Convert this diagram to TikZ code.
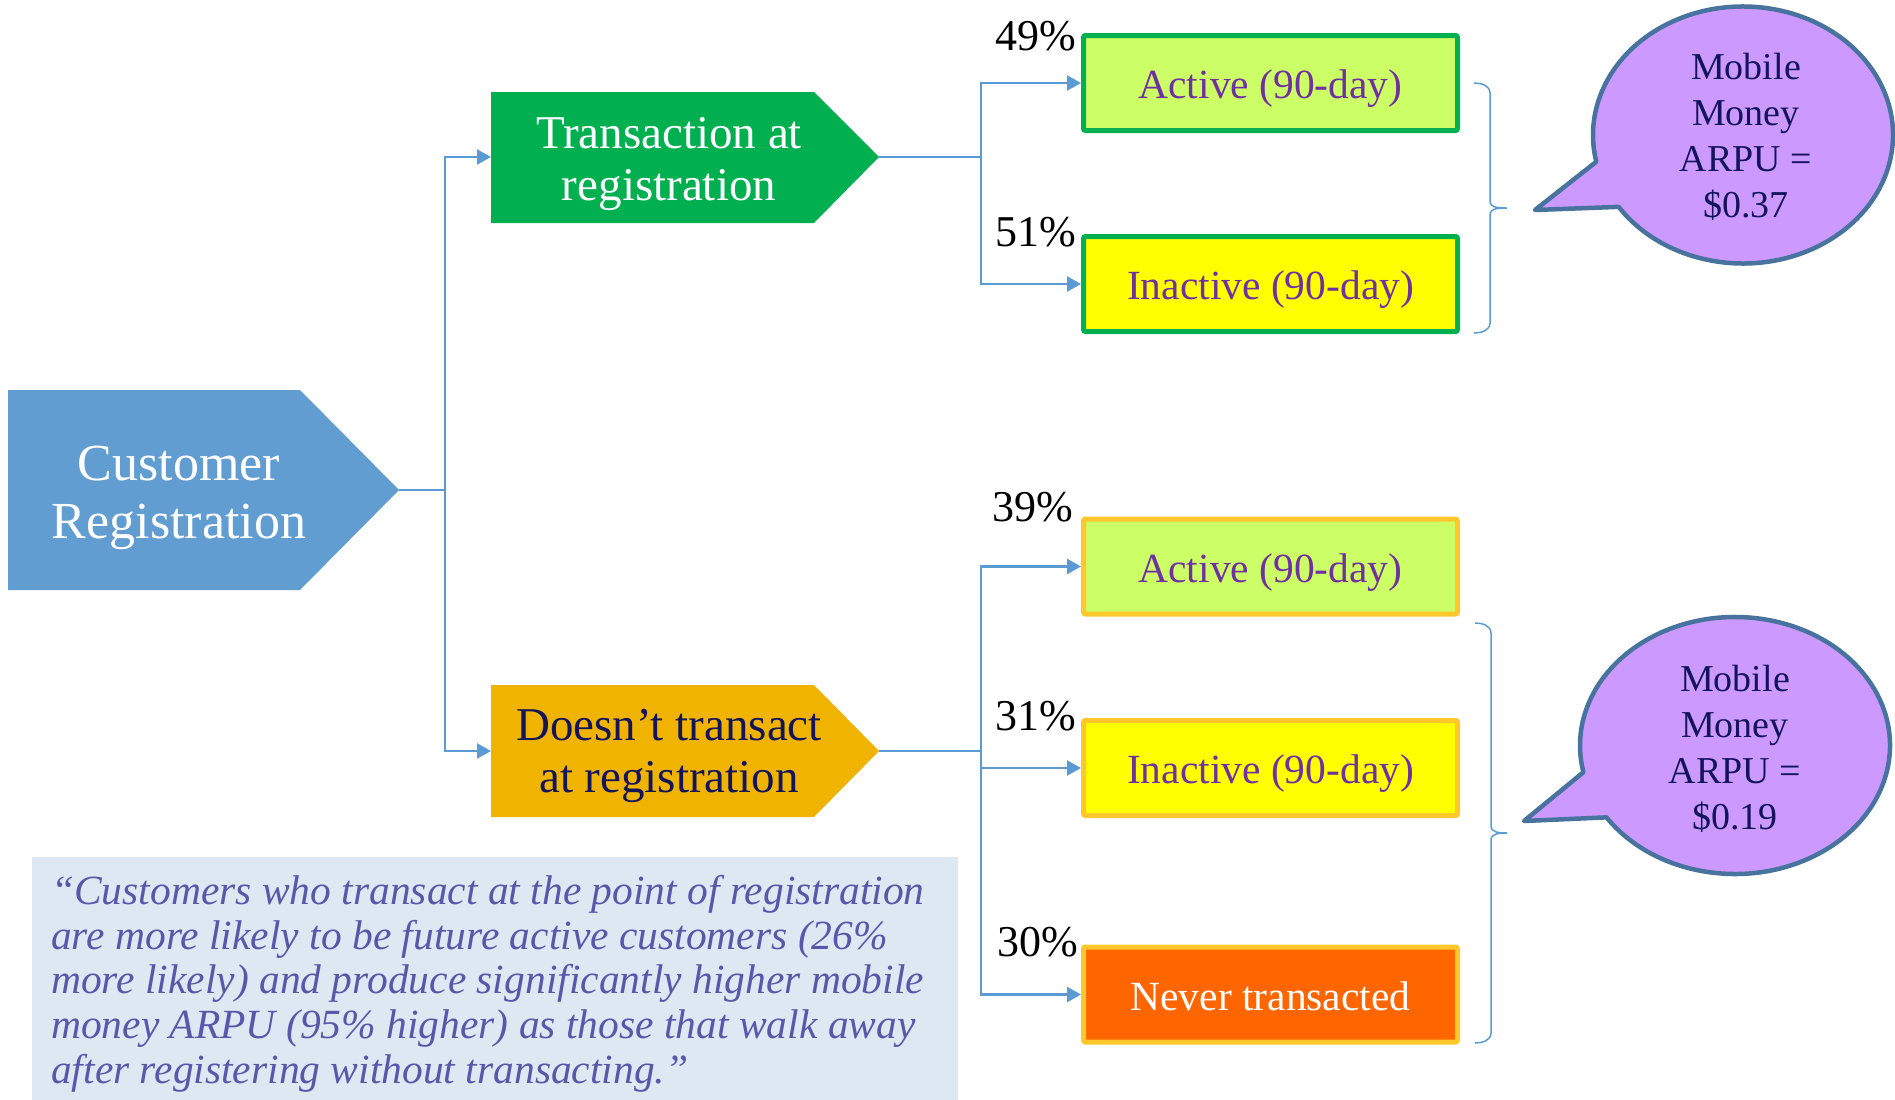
\documentclass[tikz,border=0pt]{standalone}
\usepackage{fontspec}
\setmainfont{Liberation Serif}
\usetikzlibrary{arrows.meta,calc}
\definecolor{custblue}{HTML}{629DD1}
\definecolor{tgreen}{HTML}{00B050}
\definecolor{dgold}{HTML}{F0B400}
\definecolor{linecol}{HTML}{5B9BD5}
\definecolor{actfill}{HTML}{CCFF66}
\definecolor{inactfill}{HTML}{FFFF00}
\definecolor{neverfill}{HTML}{FF6600}
\definecolor{goldborder}{HTML}{FFC72C}
\definecolor{purpletext}{HTML}{7030A0}
\definecolor{navytext}{HTML}{14145A}
\definecolor{bubblefill}{HTML}{CC99FF}
\definecolor{bubbleborder}{HTML}{48739E}
\definecolor{quotefill}{HTML}{DEE8F3}
\definecolor{quotetext}{HTML}{5858AA}
\tikzset{
  conn/.style={draw=linecol, line width=2.5pt},
  arr/.style={conn, -{Triangle[length=14pt,width=15pt]}},
  outcome/.style={draw, line width=5pt, rounded corners=2pt, minimum width=374pt,
    minimum height=95pt, inner sep=0pt, text height=35pt, text depth=4pt,
    font=\fontsize{41.5}{48}\selectfont, text=purpletext},
  pct/.style={anchor=east, font=\fontsize{44}{50}\selectfont, inner sep=0pt},
  bracestyle/.style={draw=linecol, line width=1.5pt},
  bubble/.style={fill=bubblefill, draw=bubbleborder, line width=4.5pt, line join=round},
  bubbletxt/.style={align=center, text=navytext, font=\fontsize{38}{46}\selectfont},
  chevtxt/.style={align=center, inner sep=0pt}
}
\begin{document}
\begin{tikzpicture}[x=1pt,y=-1pt]
\useasboundingbox (0,0) rectangle (1895,1100);
\fill[white] (0,0) rectangle (1895,1100);

% chevrons
\fill[custblue] (8,390) -- (300,390) -- (399,490) -- (300,590) -- (8,590) -- cycle;
\node[chevtxt, text=white, font=\fontsize{52}{58}\selectfont] (cust) at (179,498) {Customer\\Registration};
\coordinate (ctip) at (399,490);

\fill[tgreen] (491,92) -- (814,92) -- (879,157) -- (814,223) -- (491,223) -- cycle;
\node[chevtxt, text=white, font=\fontsize{47}{52}\selectfont] (trans) at (669,164) {Transaction at\\registration};
\coordinate (ttip) at (879,157);
\coordinate (tin) at (491,157);

\fill[dgold] (491,685) -- (814,685) -- (879,751) -- (814,817) -- (491,817) -- cycle;
\node[chevtxt, text=navytext, font=\fontsize{47}{52}\selectfont] (dont) at (669,756) {Doesn’t transact\\at registration};
\coordinate (dtip) at (879,751);
\coordinate (din) at (491,751);

% outcome boxes
\node[outcome, draw=tgreen, fill=actfill] (a1) at (1270.5,83) {Active (90-day)};
\node[outcome, draw=tgreen, fill=inactfill] (i1) at (1270.5,284) {Inactive (90-day)};
\node[outcome, draw=goldborder, fill=actfill] (a2) at (1270.5,566.5) {Active (90-day)};
\node[outcome, draw=goldborder, fill=inactfill] (i2) at (1270.5,768) {Inactive (90-day)};
\node[outcome, draw=goldborder, fill=neverfill, text=white] (n2) at (1270.5,994.5) {Never transacted};

% percentages
\node[pct] (p49) at (1076,36) {49\%};
\node[pct] (p51) at (1076,232) {51\%};
\node[pct] (p39) at (1073,507) {39\%};
\node[pct] (p31) at (1076,716) {31\%};
\node[pct] (p30) at (1078,942) {30\%};

% connectors
\coordinate (cj) at (445,490);
\draw[conn] (ctip) -- (cj);
\draw[arr] (cj) |- (tin);
\draw[arr] (cj) |- (din);

\coordinate (tj) at (981,157);
\draw[conn] (ttip) -- (tj);
\draw[arr] (tj) |- (a1.west);
\draw[arr] (tj) |- (i1.west);

\coordinate (dj) at (981,751);
\draw[conn] (dtip) -- (dj);
\draw[arr] (dj) |- (a2.west);
\draw[arr] (dj) |- (i2.west);
\draw[arr] (dj) |- (n2.west);

% braces
\draw[bracestyle] (1474,83) to[out=0,in=90] (1490,93) -- (1490,201) to[out=-90,in=180] (1507,208)
  to[out=180,in=90] (1490,215) -- (1490,323) to[out=-90,in=0] (1474,333);
\draw[bracestyle] (1475,623) to[out=0,in=90] (1491,633) -- (1491,826) to[out=-90,in=180] (1507,833)
  to[out=180,in=90] (1491,840) -- (1491,1033) to[out=-90,in=0] (1475,1043);

% bubbles
\coordinate (bc1) at (1743,135);
\draw[bubble] ($(bc1)+(168:150 and 128.5)$) -- (1535,210) -- ($(bc1)+(146:150 and 128.5)$)
  arc[start angle=146, end angle=-192, x radius=150, y radius=128.5] -- cycle;
\node[bubbletxt] (bt1) at (1746,137) {Mobile\\Money\\ARPU =\\\$0.37};

\coordinate (bc2) at (1735,745.5);
\draw[bubble] ($(bc2)+(168:155 and 128.5)$) -- (1524,821) -- ($(bc2)+(146:155 and 128.5)$)
  arc[start angle=146, end angle=-192, x radius=155, y radius=128.5] -- cycle;
\node[bubbletxt] (bt2) at (1735,749) {Mobile\\Money\\ARPU =\\\$0.19};

% quote
\fill[quotefill] (32,857) rectangle (958,1100);
\node[anchor=north west, align=left, inner sep=0pt, text=quotetext,
  font=\itshape\fontsize{41.5}{44.7}\selectfont] (quote) at (51,875)
  {“Customers who transact at the point of registration\\
   are more likely to be future active customers (26\%\\
   more likely) and produce significantly higher mobile\\
   money ARPU (95\% higher) as those that walk away\\
   after registering without transacting.”};
\end{tikzpicture}
\end{document}
